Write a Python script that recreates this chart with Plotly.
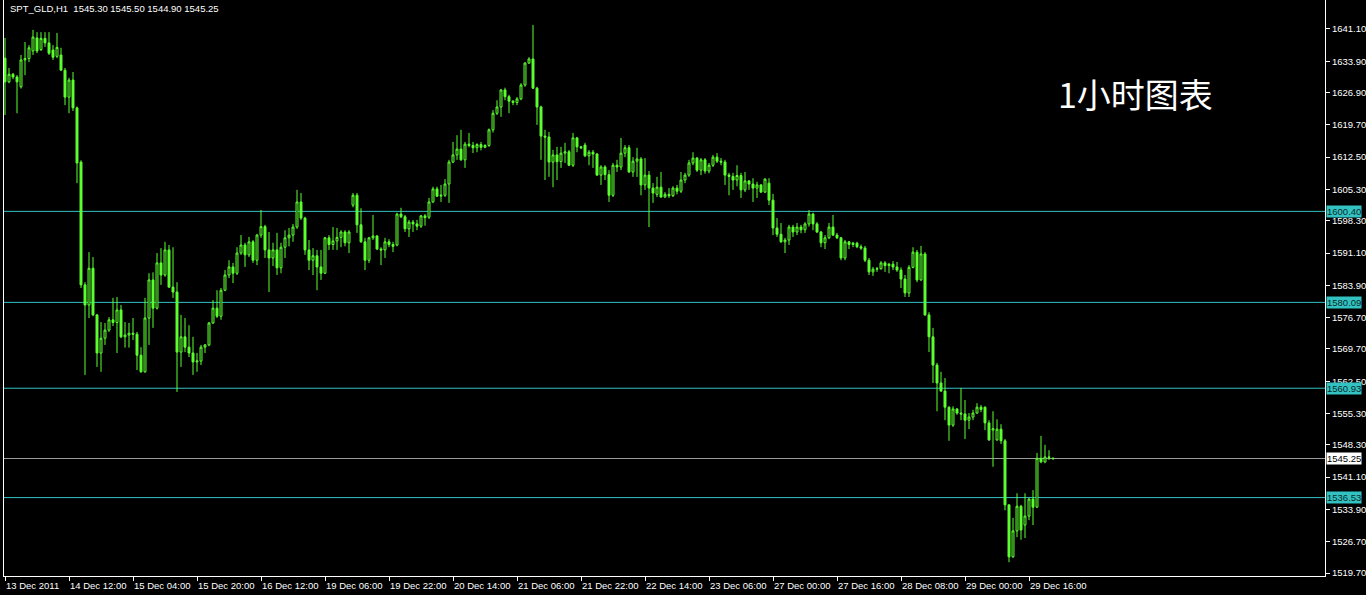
import plotly.graph_objects as go

opens = [
1634.6,1629.3,1631.0,1630.4,1628.2,1634.2,1634.5,1636.2,1639.1,1636.5,
1639.0,1638.0,1636.4,1635.0,1635.3,1631.9,1625.9,1629.7,1623.5,1611.4,
1584.0,1579.5,1587.7,1577.3,1568.8,1572.1,1573.9,1576.2,1575.6,1578.4,
1572.4,1572.8,1573.2,1573.0,1568.3,1564.6,1576.6,1585.1,1578.8,1588.9,
1586.2,1591.8,1583.5,1582.4,1569.0,1572.4,1570.1,1568.8,1566.8,1567.0,
1570.1,1570.6,1575.5,1578.8,1577.0,1582.8,1586.2,1588.0,1586.6,1591.1,
1592.9,1590.7,1593.6,1589.5,1595.1,1597.0,1591.8,1590.0,1591.8,1587.8,
1592.4,1594.5,1595.1,1596.9,1602.5,1598.9,1591.8,1589.5,1590.5,1588.0,
1586.6,1594.5,1593.0,1593.8,1594.6,1595.8,1593.4,1601.8,1604.0,1597.4,
1593.6,1589.5,1594.5,1594.9,1592.0,1591.8,1593.6,1593.0,1592.9,1599.8,
1599.2,1596.5,1598.0,1597.6,1597.1,1599.4,1599.1,1602.5,1605.4,1603.8,
1604.0,1606.5,1611.4,1613.0,1614.3,1611.9,1615.4,1615.1,1614.6,1615.3,
1614.7,1615.1,1618.6,1622.3,1623.7,1627.5,1626.0,1625.0,1624.7,1625.5,
1628.6,1633.5,1634.4,1627.9,1623.7,1617.2,1617.0,1611.4,1613.0,1611.5,
1613.4,1613.7,1610.7,1616.8,1614.8,1615.2,1612.8,1613.6,1613.2,1608.5,
1610.3,1608.6,1604.0,1610.7,1610.3,1613.4,1614.6,1609.2,1611.6,1612.1,
1606.3,1608.5,1605.6,1604.2,1605.8,1603.6,1604.2,1603.9,1605.6,1604.9,
1607.4,1608.5,1611.2,1612.3,1609.6,1611.9,1609.4,1610.7,1612.5,1611.6,
1611.4,1608.5,1608.2,1607.4,1608.4,1605.2,1607.2,1606.5,1605.6,1606.3,
1604.7,1606.7,1602.9,1596.7,1595.3,1593.6,1594.0,1596.9,1595.8,1596.9,
1596.3,1597.6,1599.8,1597.6,1595.8,1593.4,1594.5,1596.9,1595.1,1594.5,
1590.0,1593.6,1593.0,1593.3,1592.5,1592.2,1589.5,1586.9,1587.5,1587.6,
1588.9,1588.3,1588.6,1588.0,1587.3,1585.3,1582.2,1587.9,1591.3,1585.1,
1590.9,1577.3,1572.4,1566.1,1562.1,1560.3,1556.7,1552.7,1556.3,1555.4,
1555.2,1553.8,1554.5,1555.4,1556.7,1556.7,1553.2,1551.6,1549.4,1551.8,
1549.2,1534.9,1523.3,1529.1,1534.6,1530.4,1532.4,1536.2,1534.4,1545.3,
1544.5,1545.6,1545.30]

highs = [
1639.1,1632.4,1631.3,1630.8,1635.3,1638.2,1637.5,1640.9,1640.4,1640.4,
1640.4,1640.4,1637.5,1640.2,1636.9,1632.4,1630.2,1631.5,1623.8,1611.8,
1584.6,1591.3,1590.2,1577.5,1575.7,1575.5,1576.8,1581.1,1581.3,1579.5,
1575.7,1575.5,1576.6,1573.5,1570.1,1581.1,1586.6,1586.8,1591.1,1592.2,
1593.6,1592.9,1592.4,1584.6,1577.3,1576.6,1575.0,1572.4,1568.8,1570.6,
1570.8,1575.7,1580.6,1582.8,1583.3,1587.3,1589.5,1588.9,1592.4,1595.1,
1593.4,1594.7,1594.0,1595.4,1600.7,1597.4,1595.8,1593.4,1595.6,1593.4,
1596.2,1596.7,1597.6,1605.2,1604.5,1599.2,1594.0,1592.2,1591.8,1591.8,
1594.7,1595.1,1596.9,1596.7,1596.2,1596.2,1596.2,1604.5,1604.5,1601.1,
1594.5,1594.7,1599.6,1595.1,1592.4,1594.5,1594.2,1593.6,1600.1,1601.2,
1599.6,1598.5,1598.5,1598.5,1599.6,1599.8,1603.4,1605.9,1605.9,1606.3,
1607.6,1611.9,1615.9,1617.4,1618.6,1615.9,1617.9,1615.9,1615.6,1615.9,
1615.4,1618.9,1623.0,1625.2,1627.7,1628.0,1626.4,1625.2,1625.9,1629.0,
1633.7,1634.8,1642.0,1628.2,1624.0,1618.6,1618.1,1614.1,1614.8,1614.8,
1615.7,1614.1,1617.9,1617.0,1615.0,1615.7,1614.1,1614.1,1613.4,1610.7,
1610.7,1609.6,1611.2,1611.9,1616.8,1615.2,1615.2,1612.5,1614.6,1612.5,
1612.3,1609.4,1606.7,1608.1,1609.2,1604.7,1605.6,1606.0,1606.3,1609.2,
1609.0,1611.9,1613.6,1612.5,1612.3,1612.3,1611.2,1613.0,1613.4,1612.3,
1611.9,1609.0,1609.0,1610.7,1609.0,1609.2,1607.4,1607.8,1607.0,1606.5,
1607.8,1607.8,1604.3,1598.9,1597.8,1594.5,1597.4,1597.4,1597.8,1597.4,
1598.0,1600.7,1600.1,1598.0,1596.0,1595.1,1597.8,1599.6,1595.6,1594.7,
1594.0,1593.8,1593.6,1593.6,1593.0,1592.7,1590.0,1588.0,1588.0,1589.3,
1589.3,1588.9,1589.3,1589.1,1587.9,1586.2,1588.4,1592.4,1591.8,1592.7,
1591.3,1577.9,1574.4,1566.6,1564.6,1563.2,1556.9,1556.9,1556.5,1561.0,
1558.3,1555.4,1556.1,1557.6,1557.2,1556.9,1553.8,1555.8,1554.0,1552.9,
1549.6,1535.1,1532.0,1537.5,1534.9,1537.5,1536.4,1538.2,1546.5,1550.3,
1548.3,1547.1,1545.50]

lows = [
1621.9,1629.0,1629.9,1622.3,1627.8,1630.8,1633.7,1635.3,1635.7,1636.2,
1637.1,1635.3,1634.2,1634.6,1631.9,1624.1,1622.3,1622.8,1606.7,1583.3,
1563.9,1576.6,1577.0,1565.7,1564.6,1570.6,1573.5,1574.8,1568.8,1572.1,
1570.0,1570.0,1571.7,1565.0,1564.4,1564.4,1570.6,1574.4,1578.5,1584.0,
1585.8,1583.3,1581.1,1560.1,1565.7,1569.0,1567.9,1563.9,1564.6,1566.1,
1568.8,1570.3,1575.3,1576.6,1576.2,1582.6,1585.5,1584.4,1586.2,1590.7,
1588.0,1590.2,1588.9,1588.4,1594.5,1590.0,1582.4,1588.2,1586.2,1586.6,
1590.0,1592.6,1593.6,1596.5,1598.5,1590.7,1587.3,1586.2,1582.8,1585.1,
1586.4,1591.8,1591.8,1591.8,1592.4,1592.6,1591.1,1601.3,1595.6,1593.4,
1587.3,1588.9,1594.0,1591.8,1588.4,1590.0,1592.4,1591.3,1592.6,1598.9,
1595.8,1594.7,1595.8,1596.2,1596.7,1597.2,1598.7,1602.3,1603.6,1602.5,
1603.6,1602.3,1611.2,1611.9,1611.7,1610.1,1614.7,1613.4,1613.6,1614.0,
1614.5,1614.8,1618.0,1621.9,1621.5,1625.2,1622.3,1624.1,1624.1,1625.2,
1628.2,1633.3,1627.7,1619.7,1611.9,1607.4,1608.1,1605.8,1607.4,1610.1,
1611.2,1610.5,1610.3,1613.6,1614.3,1612.5,1610.7,1610.1,1608.3,1606.3,
1607.4,1602.5,1603.6,1609.2,1609.6,1612.5,1609.0,1608.1,1608.1,1604.0,
1605.2,1596.9,1602.3,1603.6,1603.4,1603.4,1603.4,1603.6,1604.2,1604.5,
1606.7,1608.1,1610.7,1609.2,1608.5,1608.8,1608.9,1610.3,1611.2,1610.7,
1606.3,1604.0,1605.2,1606.0,1603.4,1604.7,1605.2,1602.5,1603.4,1604.5,
1604.5,1601.8,1595.1,1594.7,1593.4,1591.1,1592.9,1594.7,1595.1,1595.5,
1595.6,1597.0,1596.2,1595.6,1592.4,1592.0,1594.2,1594.9,1594.2,1589.5,
1589.5,1592.0,1592.4,1592.2,1591.8,1589.1,1586.2,1586.0,1586.9,1587.4,
1586.9,1586.6,1587.3,1586.9,1583.3,1581.3,1581.3,1587.7,1584.6,1584.9,
1577.1,1569.0,1562.1,1555.8,1560.1,1553.8,1549.2,1552.3,1555.0,1553.8,
1549.6,1551.8,1553.8,1555.2,1555.6,1551.6,1549.2,1543.4,1549.2,1548.5,
1533.7,1522.1,1523.1,1527.7,1527.1,1527.5,1531.5,1530.4,1534.2,1544.2,
1544.2,1544.9,1544.90]

closes = [
1629.3,1631.0,1630.4,1629.3,1634.2,1634.5,1636.9,1639.3,1636.2,1639.0,
1638.0,1635.7,1634.8,1637.0,1631.9,1625.9,1629.7,1623.5,1611.2,1584.0,
1579.5,1587.7,1577.3,1568.8,1572.1,1573.9,1576.2,1575.6,1578.4,1572.4,
1572.8,1573.2,1573.0,1568.3,1564.6,1576.6,1585.1,1578.8,1588.9,1586.2,
1591.8,1583.5,1582.4,1569.0,1572.4,1570.1,1568.8,1566.8,1567.0,1570.1,
1570.6,1575.5,1578.8,1577.0,1582.8,1586.2,1588.0,1586.6,1591.1,1592.9,
1590.7,1593.6,1589.5,1595.1,1597.0,1591.8,1590.0,1591.8,1587.8,1592.4,
1594.5,1595.1,1596.9,1602.5,1598.9,1591.8,1589.5,1590.5,1588.0,1586.6,
1594.5,1593.0,1593.8,1594.6,1595.8,1593.4,1595.8,1604.0,1597.4,1593.6,
1589.5,1594.5,1594.9,1592.0,1591.8,1593.6,1593.0,1592.6,1599.8,1599.2,
1596.5,1598.0,1597.6,1597.1,1599.4,1599.0,1602.5,1605.4,1603.8,1604.0,
1606.5,1611.4,1613.0,1614.3,1611.9,1615.4,1615.1,1614.6,1615.3,1614.7,
1615.1,1618.6,1622.3,1623.7,1627.5,1626.0,1625.0,1624.7,1625.5,1628.6,
1633.5,1634.4,1627.9,1623.7,1617.2,1617.0,1611.4,1613.0,1611.5,1613.4,
1613.7,1610.7,1616.8,1614.8,1614.6,1612.8,1613.6,1613.2,1608.5,1610.3,
1608.6,1604.0,1610.7,1610.3,1613.4,1614.6,1609.2,1611.6,1612.1,1606.3,
1608.5,1605.6,1604.5,1605.8,1603.6,1604.2,1603.9,1605.6,1604.9,1607.4,
1608.5,1611.2,1612.3,1609.6,1611.9,1609.4,1610.7,1612.5,1611.6,1611.4,
1608.5,1608.2,1607.4,1608.4,1605.2,1607.2,1606.5,1605.6,1606.3,1604.7,
1607.6,1602.9,1596.7,1595.3,1593.6,1594.0,1596.9,1595.8,1596.9,1596.3,
1597.6,1599.8,1597.6,1595.8,1593.4,1594.5,1596.9,1595.1,1594.5,1590.0,
1593.6,1593.0,1593.3,1592.5,1592.2,1589.5,1586.9,1587.5,1587.6,1588.9,
1588.3,1588.6,1588.0,1587.3,1585.3,1582.2,1587.9,1591.3,1585.1,1590.9,
1577.3,1572.4,1566.1,1562.1,1560.3,1556.7,1552.7,1556.3,1555.4,1555.2,
1553.8,1554.5,1555.4,1556.7,1556.2,1553.2,1549.4,1551.9,1551.8,1549.2,
1534.9,1523.3,1529.1,1534.6,1529.3,1532.4,1536.2,1534.4,1545.3,1544.5,
1545.6,1545.5,1545.25]

time_labels = ["13 Dec 2011", "14 Dec 12:00", "15 Dec 04:00", "15 Dec 20:00",
               "16 Dec 12:00", "19 Dec 06:00", "19 Dec 22:00", "20 Dec 14:00",
               "21 Dec 06:00", "21 Dec 22:00", "22 Dec 14:00", "23 Dec 06:00",
               "27 Dec 00:00", "27 Dec 16:00", "28 Dec 08:00", "29 Dec 00:00",
               "29 Dec 16:00"]
time_label_bars = [0, 16, 32, 48, 64, 80, 96, 112, 128, 144, 160, 176, 192,
                   208, 224, 240, 256]

price_ticks = [1641.10, 1633.90, 1626.90, 1619.70, 1612.50, 1605.30, 1598.30,
               1591.10, 1583.90, 1576.70, 1569.70, 1562.50, 1555.30, 1548.30,
               1541.10, 1533.90, 1526.70, 1519.70]

levels = [1600.40, 1580.09, 1560.93, 1536.53]
current_price = 1545.25
title_text = "SPT_GLD,H1  1545.30 1545.50 1544.90 1545.25"
note_text = "1小时图表"

bars = list(range(len(closes)))

GREEN = "#5cff30"
CYAN = "#33c2c2"
FONT = "Liberation Sans"

fig = go.Figure()
fig.add_trace(go.Candlestick(
    x=bars, open=opens, high=highs, low=lows, close=closes,
    increasing=dict(line=dict(color=GREEN, width=1), fillcolor="#0a1a05"),
    decreasing=dict(line=dict(color=GREEN, width=1), fillcolor=GREEN),
    whiskerwidth=0, hoverinfo="skip", showlegend=False,
))

shapes = []
for lv in levels:
    shapes.append(dict(type="line", xref="paper", x0=0, x1=1, yref="y",
                       y0=lv, y1=lv, line=dict(color=CYAN, width=1), layer="below"))
shapes.append(dict(type="line", xref="paper", x0=0, x1=1, yref="y",
                   y0=current_price, y1=current_price,
                   line=dict(color="#9a9a9a", width=1), layer="below"))

annotations = []
for lbl, b in zip(time_labels, time_label_bars):
    annotations.append(dict(x=b, xref="x", y=0, yref="paper", text=lbl,
                            showarrow=False, xanchor="left", yanchor="top",
                            xshift=-1, yshift=-2,
                            font=dict(family=FONT, size=9.5, color="white")))
for lv in levels:
    annotations.append(dict(x=1, xref="paper", y=lv, yref="y",
                            text=f"{lv:.2f}", showarrow=False,
                            xanchor="left", yanchor="middle", xshift=1,
                            bgcolor=CYAN, borderpad=0,
                            font=dict(family=FONT, size=9.5, color="#0a2a2a")))
annotations.append(dict(x=1, xref="paper", y=current_price, yref="y",
                        text=f"{current_price:.2f}", showarrow=False,
                        xanchor="left", yanchor="middle", xshift=1,
                        bgcolor="white", borderpad=0,
                        font=dict(family=FONT, size=9.5, color="black")))
annotations.append(dict(x=0, xref="paper", y=1, yref="paper",
                        text=title_text.replace("  ", "\u00a0\u00a0"),
                        showarrow=False, xanchor="left", yanchor="top",
                        xshift=4, yshift=-1,
                        font=dict(family=FONT, size=9.5, color="white")))
annotations.append(dict(x=0.796, xref="paper", y=1626.6, yref="y",
                        text=note_text, showarrow=False, xanchor="left",
                        yanchor="middle",
                        font=dict(family="Noto Sans CJK SC", size=34,
                                  color="white")))

fig.update_layout(
    width=1366, height=595,
    margin=dict(l=4, r=41, t=0, b=19),
    paper_bgcolor="black", plot_bgcolor="black",
    shapes=shapes, annotations=annotations,
    showlegend=False, hovermode=False,
    xaxis=dict(range=[-0.25, 330.0], rangeslider=dict(visible=False),
               showgrid=False, zeroline=False, showline=True,
               linecolor="white", linewidth=1, automargin=False,
               tickmode="array", tickvals=time_label_bars,
               showticklabels=False, ticks="outside", ticklen=4,
               tickcolor="white", fixedrange=True),
    yaxis=dict(range=[1519.03, 1647.57], side="right",
               showgrid=False, zeroline=False, showline=True, mirror=True,
               linecolor="white", linewidth=1, automargin=False,
               tickmode="array", tickvals=price_ticks,
               ticktext=[f"{p:.2f}" for p in price_ticks],
               ticks="outside", ticklen=4, tickcolor="white",
               tickfont=dict(family=FONT, size=9.5, color="white"),
               fixedrange=True),
)

fig.write_html(
    "out.html",
    config={"displayModeBar": False},
    post_script="document.body.style.margin='0';document.body.style.padding='0';"
                "document.body.style.background='black';"
                "document.documentElement.style.overflow='hidden';",
)
